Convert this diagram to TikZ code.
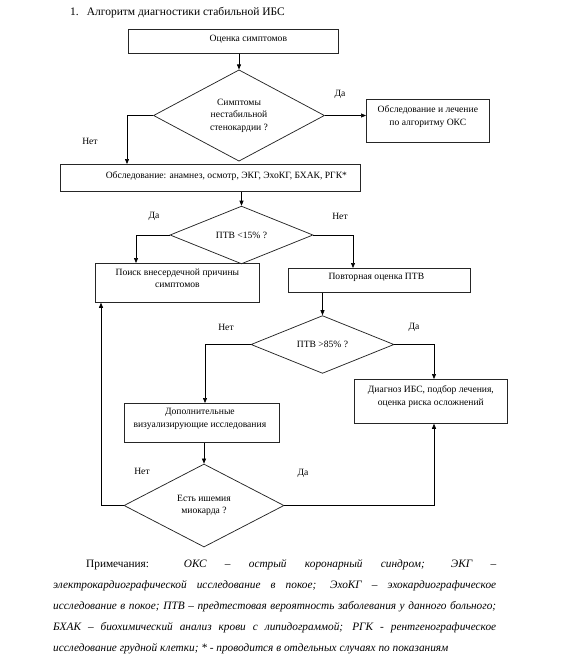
\documentclass[tikz,border=0pt]{standalone}
\usepackage{fontspec}
\setmainfont{Liberation Serif}
\usetikzlibrary{shapes.geometric,arrows.meta,calc}
\begin{document}
\begin{tikzpicture}[x=1pt,y=-1pt,
  box/.style={draw=black!85, line width=0.75pt, inner sep=0pt, anchor=north west},
  btxt/.style={anchor=north, inner sep=0pt, align=center, font=\fontsize{9.6}{12.7}\selectfont, yshift=-5.5pt},
  dia/.style={draw=black!85, line width=0.75pt, shape=diamond, inner sep=0pt, align=center, font=\fontsize{9.6}{12.5}\selectfont},
  conn/.style={line width=0.65pt, -{Triangle[length=5pt,width=4pt]}},
  lbl/.style={font=\fontsize{9.6}{12}\selectfont, inner sep=0pt}]
\useasboundingbox (0,0) rectangle (563,672);

% title
\node[anchor=west, inner sep=0pt, font=\fontsize{11.5}{13}\selectfont] (title) at (70,13) {1.\hspace{8pt}Алгоритм диагностики стабильной ИБС};

% boxes
\node[box, minimum width=210pt, minimum height=24pt, label={[btxt, xshift=15pt]north:Оценка симптомов}] (b1) at (128,29) {};
\node[box, minimum width=123pt, minimum height=43pt, label={[btxt, yshift=-1pt]north:{Обследование и лечение\\по алгоритму ОКС}}] (b2) at (366,99) {};
\node[box, minimum width=300pt, minimum height=27pt, label={[btxt, yshift=-2pt, xshift=16pt]north:{Обследование: анамнез, осмотр, ЭКГ, ЭхоКГ, БХАК, РГК*}}] (b3) at (60,164) {};
\node[box, minimum width=164pt, minimum height=39pt, label={[btxt]north:{Поиск внесердечной причины\\симптомов}}] (b4) at (95,263) {};
\node[box, minimum width=182pt, minimum height=24pt, label={[btxt, xshift=-3pt]north:{Повторная оценка ПТВ}}] (b5) at (288,268) {};
\node[box, minimum width=155pt, minimum height=39pt, label={[btxt, xshift=-2pt]north:{Дополнительные\\визуализирующие исследования}}] (b6) at (124,403) {};
\node[box, minimum width=153pt, minimum height=44pt, label={[btxt, yshift=-1pt]north:{Диагноз ИБС, подбор лечения,\\оценка риска осложнений}}] (b7) at (354,379) {};

% diamonds
\node[dia, minimum width=171pt, minimum height=91pt] (d1) at (239,115.5) {Симптомы\\нестабильной\\стенокардии ?};
\node[dia, minimum width=143pt, minimum height=47pt] (d2) at (241.5,235) {ПТВ <15\% ?};
\node[dia, minimum width=143pt, minimum height=51pt] (d3) at (322.5,344.5) {ПТВ >85\% ?};
\node[dia, minimum width=160pt, minimum height=83pt] (d4) at (204,505.5) {Есть ишемия\\миокарда ?};

% routing coordinates
\coordinate (x1) at (127,0);
\coordinate (x2) at (136,0);
\coordinate (x3) at (353,0);
\coordinate (x4) at (205,0);
\coordinate (x5) at (434,0);
\coordinate (x6) at (101,0);

% connectors
\draw[conn] (b1.south -| d1.north) -- (d1.north);
\draw[conn] (d1.east) -- (d1.east -| b2.west);
\draw[conn] (d1.west) -| (x1 |- b3.north);
\draw[conn] (b3.south -| d2.north) -- (d2.north);
\draw[conn] (d2.west) -| (x2 |- b4.north);
\draw[conn] (d2.east) -| (x3 |- b5.north);
\draw[conn] (b5.south -| d3.north) -- (d3.north);
\draw[conn] (d3.west) -| (x4 |- b6.north);
\draw[conn] (d3.east) -| (x5 |- b7.north);
\draw[conn] (b6.south -| d4.north) -- (d4.north);
\draw[conn] (d4.west) -| (x6 |- b4.south);
\draw[conn] (d4.east) -| (x5 |- b7.south);

% branch labels
\node[lbl] (l1) at (340,94) {Да};
\node[lbl] (l2) at (90,141) {Нет};
\node[lbl] (l3) at (154,216) {Да};
\node[lbl] (l4) at (340,216) {Нет};
\node[lbl] (l5) at (226,327) {Нет};
\node[lbl] (l6) at (414,327) {Да};
\node[lbl] (l7) at (142,471) {Нет};
\node[lbl] (l8) at (303,473) {Да};

% notes
\node[anchor=north west, inner sep=0pt, text width=443pt, align=justify,
      font=\fontsize{11.3}{21}\selectfont] (notes) at (53,559.5)
  {\hyphenpenalty=10000\exhyphenpenalty=10000\hspace*{33pt}Примечания: \textit{ОКС – острый коронарный синдром; ЭКГ –\linebreak
  электрокардиографической исследование в покое; ЭхоКГ – эхокардиографическое\linebreak
  исследование в покое; ПТВ – предтестовая вероятность заболевания у данного больного;\linebreak
  БХАК – биохимический анализ крови с липидограммой; РГК - рентгенографическое\linebreak
  исследование грудной клетки; * - проводится в отдельных случаях по показаниям}};
\end{tikzpicture}
\end{document}
